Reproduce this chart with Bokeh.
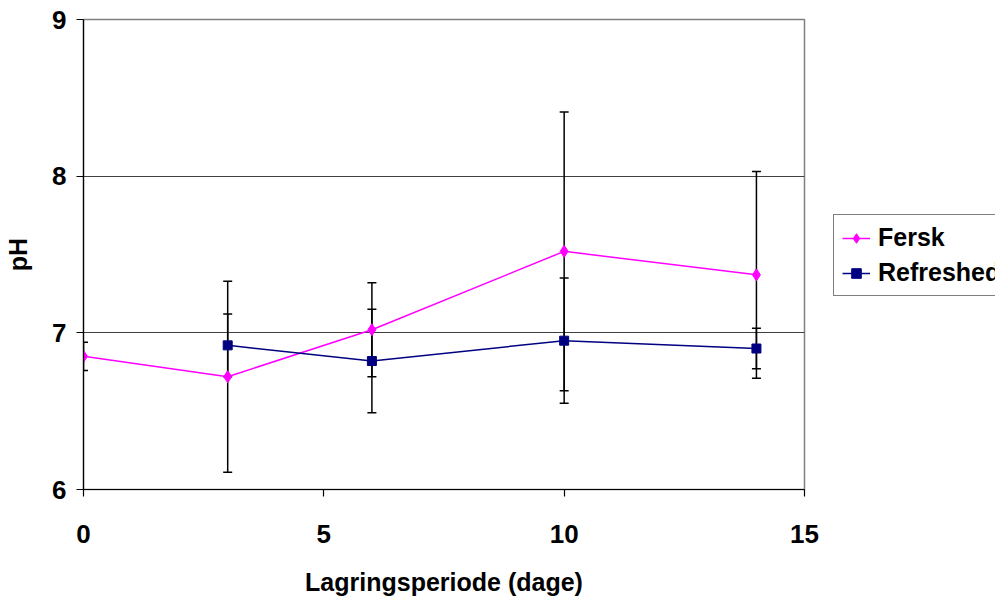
from bokeh.plotting import figure
from bokeh.layouts import row
from bokeh.models import ColumnDataSource, Whisker, Legend, LegendItem, FixedTicker, Range1d
from bokeh.embed import file_html
from bokeh.resources import INLINE

# Data
days_fersk = [0, 3, 6, 10, 14]
ph_fersk = [6.85, 6.72, 7.02, 7.52, 7.37]
err_fersk = [0.09, 0.61, 0.30, 0.89, 0.66]

days_refr = [3, 6, 10, 14]
ph_refr = [6.92, 6.82, 6.95, 6.90]
err_refr = [0.20, 0.33, 0.40, 0.13]

x_ticks = [0, 5, 10, 15]
y_ticks = [6, 7, 8, 9]
series_names = ["Fersk", "Refreshed"]
series_colors = ["#FF00FF", "#000080"]
series_markers = ["diamond", "square"]
series_sizes = [12, 9]

FONT = "Liberation Sans"

src_f = ColumnDataSource(dict(x=days_fersk, y=ph_fersk,
                              lo=[v - e for v, e in zip(ph_fersk, err_fersk)],
                              hi=[v + e for v, e in zip(ph_fersk, err_fersk)]))
src_r = ColumnDataSource(dict(x=days_refr, y=ph_refr,
                              lo=[v - e for v, e in zip(ph_refr, err_refr)],
                              hi=[v + e for v, e in zip(ph_refr, err_refr)]))
sources = [src_f, src_r]

p = figure(width=832, height=598, output_backend="svg", toolbar_location=None,
           x_range=Range1d(0, 15), y_range=Range1d(6, 9),
           min_border_left=83, min_border_right=28, min_border_top=19, min_border_bottom=109)
p.background_fill_color = "white"
p.border_fill_color = "white"
p.outline_line_color = "#808080"
p.outline_line_width = 1.5

p.xgrid.visible = False
p.ygrid.ticker = FixedTicker(ticks=[7, 8])
p.ygrid.grid_line_color = "#404040"
p.ygrid.grid_line_width = 1

for ax in (p.xaxis[0], p.yaxis[0]):
    ax.axis_line_color = "black"
    ax.axis_line_width = 1.2
    ax.major_tick_line_color = "black"
    ax.major_tick_line_width = 1.2
    ax.major_tick_in = 0
    ax.minor_tick_line_color = None
    ax.major_label_text_font = FONT
    ax.major_label_text_font_style = "bold"
    ax.major_label_text_font_size = "26px"
    ax.major_label_text_color = "black"
    ax.axis_label_text_font = FONT
    ax.axis_label_text_font_style = "bold"
    ax.axis_label_text_font_size = "25px"
    ax.axis_label_text_color = "black"

p.xaxis.ticker = FixedTicker(ticks=x_ticks)
p.yaxis.ticker = FixedTicker(ticks=y_ticks)
p.xaxis.major_tick_out = 7
p.yaxis.major_tick_out = 7
p.xaxis.major_label_standoff = 28
p.yaxis.major_label_standoff = 10
p.xaxis.axis_label = "Lagringsperiode (dage)"
p.yaxis.axis_label = "pH"
p.xaxis.axis_label_standoff = 22
p.yaxis.axis_label_standoff = 17

for src in sources:
    w = Whisker(source=src, base="x", lower="lo", upper="hi", dimension="height",
                line_color="black", line_width=1.5)
    w.upper_head.size = 9
    w.lower_head.size = 9
    w.upper_head.line_color = "black"
    w.lower_head.line_color = "black"
    w.upper_head.line_width = 1.5
    w.lower_head.line_width = 1.5
    p.add_layout(w)

for src, col, mk, sz in zip(sources, series_colors, series_markers, series_sizes):
    p.line("x", "y", source=src, line_color=col, line_width=1.5)
    p.scatter("x", "y", source=src, marker=mk, size=sz, fill_color=col, line_color=col)

# Legend panel: a separate figure to the right (its data lie outside its view,
# only the legend is visible), so the legend may be cut at the window edge.
lg = figure(width=163, height=598, output_backend="svg", toolbar_location=None,
            x_range=Range1d(1000, 1001), y_range=Range1d(1000, 1001),
            min_border_left=0, min_border_right=0, min_border_top=0, min_border_bottom=0)
lg.axis.visible = False
lg.grid.visible = False
lg.outline_line_color = None
lg.background_fill_color = "white"
lg.border_fill_color = "white"

items = []
for name, src, col, mk, sz in zip(series_names, sources, series_colors, series_markers, series_sizes):
    r1 = lg.line("x", "y", source=src, line_color=col, line_width=1.5)
    r2 = lg.scatter("x", "y", source=src, marker=mk, size=sz, fill_color=col, line_color=col)
    items.append(LegendItem(label=name, renderers=[r1, r2]))

legend = Legend(items=items, location=(1, 193))
legend.label_text_font = FONT
legend.label_text_font_style = "bold"
legend.label_text_font_size = "25px"
legend.label_text_color = "black"
legend.border_line_color = "black"
legend.border_line_width = 1.3
legend.background_fill_alpha = 1
legend.glyph_width = 28
legend.glyph_height = 24
legend.label_height = 24
legend.spacing = 6
legend.padding = 8
legend.margin = 0
legend.label_standoff = 8
lg.add_layout(legend)

layout = row(p, lg, spacing=0)
open("out.html", "w").write(file_html(layout, INLINE))
